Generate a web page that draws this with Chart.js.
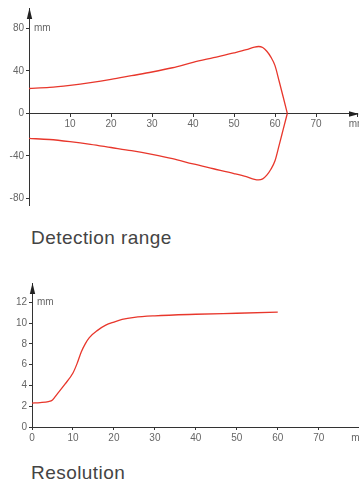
<!DOCTYPE html>
<html>
<head>
<meta charset="utf-8">
<script src="https://cdn.jsdelivr.net/npm/chart.js@4.4.1/dist/chart.umd.min.js"></script>
<style>
  html, body { margin: 0; padding: 0; background: #fff; }
  body { width: 359px; height: 483px; overflow: hidden; position: relative; }
  canvas { position: absolute; left: 0; }
  #range { top: 0; }
  #res { top: 270px; }
  .title { position: absolute; left: 31px; font: 19px/19px "Liberation Sans", Arial, sans-serif; letter-spacing: 0.45px; color: #444; white-space: nowrap; }
</style>
</head>
<body>
<canvas id="range" width="370" height="215"></canvas>
<div class="title" style="top:228px">Detection range</div>
<canvas id="res" width="370" height="180"></canvas>
<div class="title" style="top:463px">Resolution</div>
<script>
"use strict";

// detection range (mm)
const range_x = [0, 5, 10, 15, 20, 25, 30, 35, 40, 45, 50, 53, 55, 56, 57, 58, 59, 60, 61, 62, 63];
const range_upper = [23.5, 24.5, 26.5, 29, 32, 35.5, 39, 43, 48, 52.5, 57, 60, 62.5, 63, 62, 58.5, 53, 45, 30.5, 15.5, 0];
const range_lower = [-23.5, -24.5, -26.5, -29, -32, -35, -38.5, -42.5, -47.5, -52, -56.5, -59.5, -62, -62.5, -61.5, -58, -52.5, -44.5, -30, -15, 0];
const range_x_ticks = [0, 10, 20, 30, 40, 50, 60, 70, 80];
const range_y_ticks = [-80, -40, 0, 40, 80];

// resolution (mm)
const res_x = [0, 2, 4, 5, 6, 8, 10, 11, 12, 13, 14, 16, 18, 20, 22, 25, 30, 40, 50, 60];
const res_y = [2.3, 2.35, 2.45, 2.6, 3.1, 4.1, 5.2, 6.1, 7.2, 8.0, 8.6, 9.3, 9.8, 10.1, 10.35, 10.55, 10.7, 10.85, 10.95, 11.05];
const res_x_ticks = [0, 10, 20, 30, 40, 50, 60, 70, 80];
const res_y_ticks = [0, 2, 4, 6, 8, 10, 12];

const red = '#e8372c';
const axis_color = '#333';
const label_color = '#666';
const font_family = '"Liberation Sans", Arial, sans-serif';

function points(xs, ys) {
  return xs.map((x, i) => ({ x: x, y: ys[i] }));
}

function line_dataset(data) {
  return {
    data: data,
    borderColor: red,
    borderWidth: 1.3,
    pointRadius: 0,
    fill: false,
    cubicInterpolationMode: 'monotone',
  };
}

// arrow heads on the axes plus the "mm" unit next to the y axis
const axis_decor = {
  id: 'axis_decor',
  afterDraw(chart, args, opts) {
    const ctx = chart.ctx;
    const area = chart.chartArea;
    const x0 = chart.scales.x.getPixelForValue(0);
    const y0 = chart.scales.y.getPixelForValue(0);
    ctx.save();
    ctx.fillStyle = '#222';
    ctx.beginPath();
    ctx.moveTo(x0 + 0.5, area.top);
    ctx.lineTo(x0 - 2.2, area.top + 11);
    ctx.lineTo(x0 + 3.2, area.top + 11);
    ctx.closePath();
    ctx.fill();
    if (opts.x_arrow) {
      const tip = area.right + 2;
      ctx.beginPath();
      ctx.moveTo(tip, y0 + 0.5);
      ctx.lineTo(tip - 10, y0 - 2.2);
      ctx.lineTo(tip - 10, y0 + 3.2);
      ctx.closePath();
      ctx.fill();
    }
    ctx.fillStyle = label_color;
    ctx.font = '10px ' + font_family;
    ctx.textBaseline = 'middle';
    ctx.textAlign = 'left';
    ctx.fillText('mm', x0 + 5, chart.scales.y.getPixelForValue(opts.unit_at));
    ctx.restore();
  }
};

function axis_common(tick_values, hide, unit_at) {
  return {
    type: 'linear',
    grid: { drawOnChartArea: false, drawTicks: true, tickLength: 3, color: axis_color },
    border: { color: axis_color, width: 1 },
    afterBuildTicks: (scale) => {
      scale.ticks = tick_values.map(v => ({ value: v }));
    },
    ticks: {
      color: label_color,
      font: { size: 10, family: font_family },
      padding: 2,
      autoSkip: false,
      maxRotation: 0,
      callback: (v) => {
        if (hide.indexOf(v) >= 0) return '';
        if (v === unit_at) return 'mm';
        return String(v);
      },
    },
  };
}

var range_chart = new Chart(document.getElementById('range'), {
  type: 'line',
  data: {
    datasets: [
      line_dataset(points(range_x, range_upper)),
      line_dataset(points(range_x, range_lower)),
    ],
  },
  options: {
    responsive: false,
    animation: false,
    layout: { padding: { top: 7, bottom: 10, right: 13, left: 0 } },
    plugins: {
      legend: { display: false },
      tooltip: { enabled: false },
      axis_decor: { unit_at: 80, x_arrow: true },
    },
    scales: {
      x: Object.assign(axis_common(range_x_ticks, [0], 80), {
        min: 0, max: 80, position: { y: 0 },
      }),
      y: Object.assign(axis_common(range_y_ticks, [], null), {
        min: -86.1, max: 99.2, position: 'left',
        afterFit: (scale) => { scale.width = 29; },
      }),
    },
  },
  plugins: [axis_decor],
});

var res_chart = new Chart(document.getElementById('res'), {
  type: 'line',
  data: {
    datasets: [line_dataset(points(res_x, res_y))],
  },
  options: {
    responsive: false,
    animation: false,
    layout: { padding: { top: 13, bottom: 0, right: 9, left: 0 } },
    plugins: {
      legend: { display: false },
      tooltip: { enabled: false },
      axis_decor: { unit_at: 12, x_arrow: false },
    },
    scales: {
      x: Object.assign(axis_common(res_x_ticks, [], 80), {
        min: 0, max: 80, position: 'bottom',
        afterFit: (scale) => { scale.height = 23; },
      }),
      y: Object.assign(axis_common(res_y_ticks, [], null), {
        min: 0, max: 13.86, position: 'left',
        afterFit: (scale) => { scale.width = 32; },
      }),
    },
  },
  plugins: [axis_decor],
});
</script>
</body>
</html>
